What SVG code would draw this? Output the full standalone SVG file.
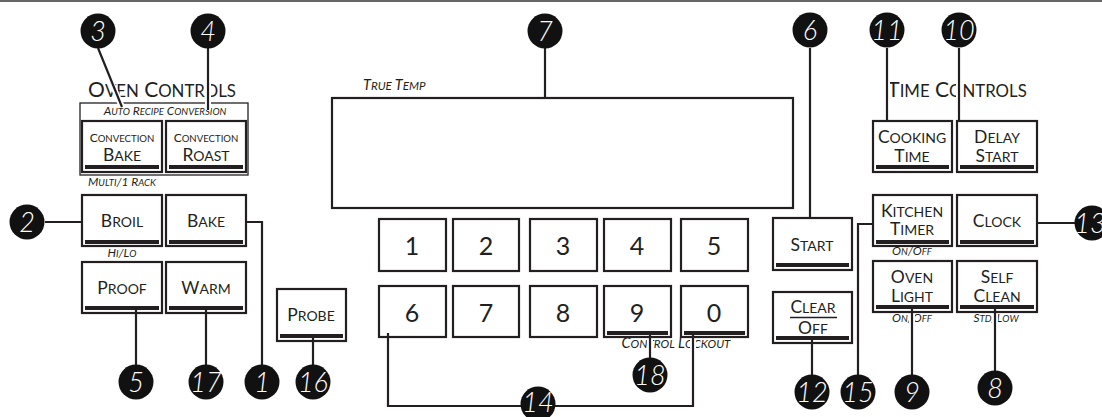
<svg xmlns="http://www.w3.org/2000/svg" width="1102" height="417" viewBox="0 0 1102 417">
<style>
.bg{fill:#fff}
.btn{fill:#fff;stroke:#231f20;stroke-width:2.2}
.bar{fill:#231f20}
.lbl{font-family:Lato,"Open Sans",sans-serif;fill:#231f20;text-anchor:middle}
.big{font-size:17.5px}
.sm{font-size:12px}
.s{font-size:0.8em}
.it{font-family:Lato,"Open Sans",sans-serif;fill:#231f20;font-style:italic;font-size:12px}
.it2{font-size:14.5px}
.hd{font-family:Lato,"Open Sans",sans-serif;fill:#231f20;font-size:21px}
.dig{font-family:Lato,"Open Sans",sans-serif;fill:#231f20;font-size:25px;text-anchor:middle}
.ln{fill:none;stroke:#231f20;stroke-width:2.2}
.halo{fill:none;stroke:#fff;stroke-width:6}
.badge circle{fill:#111}
.badge text{font-family:Lato,"Open Sans",sans-serif;font-style:italic;font-weight:300;font-size:27px;fill:#fff;text-anchor:middle}
</style>
<rect class="bg" x="0" y="0" width="1102" height="417"/>
<line x1="0" y1="1" x2="1102" y2="1" stroke="#666" stroke-width="2"/>

<g id="oven-controls-heading">
<text class="hd" x="162" y="97" text-anchor="middle">O<tspan class="s">VEN</tspan> C<tspan class="s">ONTROLS</tspan></text>
<rect x="80" y="103" width="168" height="72" fill="none" stroke="#231f20" stroke-width="1.3"/>
<text class="it" x="165" y="115" text-anchor="middle">A<tspan class="s">UTO</tspan> R<tspan class="s">ECIPE</tspan> C<tspan class="s">ONVERSION</tspan></text>
<text class="it" x="88" y="186">M<tspan class="s">ULTI</tspan>/1 R<tspan class="s">ACK</tspan></text>
<text class="it" x="122" y="257" text-anchor="middle">H<tspan class="s">I</tspan>/L<tspan class="s">O</tspan></text>
</g>

<g id="btn-conv-bake"><rect class="btn" x="82" y="121" width="80" height="51"/><rect class="bar" x="85" y="165" width="74" height="4"/>
<text class="lbl sm" x="122" y="142">C<tspan class="s">ONVECTION</tspan></text><text class="lbl big" x="122" y="161">B<tspan class="s">AKE</tspan></text></g>
<g id="btn-conv-roast"><rect class="btn" x="166" y="121" width="80" height="51"/><rect class="bar" x="169" y="165" width="74" height="4"/>
<text class="lbl sm" x="206" y="142">C<tspan class="s">ONVECTION</tspan></text><text class="lbl big" x="206" y="161">R<tspan class="s">OAST</tspan></text></g>
<g id="btn-broil"><rect class="btn" x="82" y="195" width="80" height="51"/><rect class="bar" x="85" y="240" width="74" height="4"/>
<text class="lbl big" x="122" y="227">B<tspan class="s">ROIL</tspan></text></g>
<g id="btn-bake"><rect class="btn" x="166" y="195" width="80" height="51"/><rect class="bar" x="169" y="240" width="74" height="4"/>
<text class="lbl big" x="206" y="227">B<tspan class="s">AKE</tspan></text></g>
<g id="btn-proof"><rect class="btn" x="82" y="262" width="80" height="51"/><rect class="bar" x="85" y="306" width="74" height="4"/>
<text class="lbl big" x="122" y="294">P<tspan class="s">ROOF</tspan></text></g>
<g id="btn-warm"><rect class="btn" x="166" y="262" width="80" height="51"/><rect class="bar" x="169" y="306" width="74" height="4"/>
<text class="lbl big" x="206" y="294">W<tspan class="s">ARM</tspan></text></g>
<g id="btn-probe"><rect class="btn" x="277" y="289" width="69" height="52"/><rect class="bar" x="280" y="334" width="63" height="4"/>
<text class="lbl big" x="311" y="321">P<tspan class="s">ROBE</tspan></text></g>

<g id="display"><rect x="332" y="98" width="461" height="110" fill="#fff" stroke="#231f20" stroke-width="2.2"/>
<text class="it it2" x="363" y="90">T<tspan class="s">RUE</tspan> T<tspan class="s">EMP</tspan></text></g>

<g id="key-1"><rect class="btn" x="379" y="219" width="67" height="52"/><text class="dig" x="412" y="255">1</text></g>
<g id="key-2"><rect class="btn" x="453" y="219" width="66" height="52"/><text class="dig" x="486" y="255">2</text></g>
<g id="key-3"><rect class="btn" x="530" y="219" width="67" height="52"/><text class="dig" x="563" y="255">3</text></g>
<g id="key-4"><rect class="btn" x="604" y="219" width="67" height="52"/><text class="dig" x="637" y="255">4</text></g>
<g id="key-5"><rect class="btn" x="681" y="219" width="67" height="52"/><text class="dig" x="714" y="255">5</text></g>
<g id="key-6"><rect class="btn" x="379" y="286" width="67" height="51"/><text class="dig" x="412" y="322">6</text></g>
<g id="key-7"><rect class="btn" x="453" y="286" width="66" height="51"/><text class="dig" x="486" y="322">7</text></g>
<g id="key-8"><rect class="btn" x="530" y="286" width="67" height="51"/><text class="dig" x="563" y="322">8</text></g>
<g id="key-9"><rect class="btn" x="604" y="286" width="67" height="51"/><rect class="bar" x="607" y="331" width="61" height="4"/><text class="dig" x="637" y="322">9</text></g>
<g id="key-0"><rect class="btn" x="681" y="286" width="67" height="51"/><rect class="bar" x="684" y="331" width="61" height="4"/><text class="dig" x="714" y="322">0</text></g>
<text class="it it2" x="676" y="348" text-anchor="middle">C<tspan class="s">ONTROL</tspan> L<tspan class="s">OCKOUT</tspan></text>

<g id="btn-start"><rect class="btn" x="773" y="218" width="79" height="52"/><rect class="bar" x="776" y="263" width="73" height="4"/>
<text class="lbl big" x="812" y="251">S<tspan class="s">TART</tspan></text></g>
<g id="btn-clear-off"><rect class="btn" x="773" y="292" width="79" height="51"/><rect class="bar" x="776" y="336" width="73" height="4"/>
<text class="lbl big" x="813" y="313">C<tspan class="s">LEAR</tspan></text><line x1="790" y1="317.5" x2="837" y2="317.5" stroke="#231f20" stroke-width="1.5"/><text class="lbl big" x="813" y="334">O<tspan class="s">FF</tspan></text></g>

<g id="time-controls-heading">
<text class="hd" x="957" y="97" text-anchor="middle">T<tspan class="s">IME</tspan> C<tspan class="s">ONTROLS</tspan></text>
<text class="it" x="912" y="255" text-anchor="middle">O<tspan class="s">N</tspan>/O<tspan class="s">FF</tspan></text>
<text class="it" x="912" y="322" text-anchor="middle">O<tspan class="s">N</tspan>/O<tspan class="s">FF</tspan></text>
<text class="it" x="996" y="322" text-anchor="middle">S<tspan class="s">TD</tspan>/L<tspan class="s">OW</tspan></text>
</g>
<g id="btn-cooking-time"><rect class="btn" x="873" y="121" width="79" height="51"/><rect class="bar" x="876" y="165" width="73" height="4"/>
<text class="lbl big" x="912" y="143">C<tspan class="s">OOKING</tspan></text><text class="lbl big" x="912" y="162">T<tspan class="s">IME</tspan></text></g>
<g id="btn-delay-start"><rect class="btn" x="957" y="121" width="80" height="51"/><rect class="bar" x="960" y="165" width="74" height="4"/>
<text class="lbl big" x="997" y="143">D<tspan class="s">ELAY</tspan></text><text class="lbl big" x="997" y="162">S<tspan class="s">TART</tspan></text></g>
<g id="btn-kitchen-timer"><rect class="btn" x="873" y="195" width="79" height="51"/><rect class="bar" x="876" y="240" width="73" height="4"/>
<text class="lbl big" x="912" y="217">K<tspan class="s">ITCHEN</tspan></text><text class="lbl big" x="912" y="235">T<tspan class="s">IMER</tspan></text></g>
<g id="btn-clock"><rect class="btn" x="957" y="195" width="80" height="51"/><rect class="bar" x="960" y="240" width="74" height="4"/>
<text class="lbl big" x="997" y="227">C<tspan class="s">LOCK</tspan></text></g>
<g id="btn-oven-light"><rect class="btn" x="873" y="261" width="79" height="51"/><rect class="bar" x="876" y="305" width="73" height="4"/>
<text class="lbl big" x="912" y="283">O<tspan class="s">VEN</tspan></text><text class="lbl big" x="912" y="302">L<tspan class="s">IGHT</tspan></text></g>
<g id="btn-self-clean"><rect class="btn" x="957" y="261" width="80" height="51"/><rect class="bar" x="960" y="305" width="74" height="4"/>
<text class="lbl big" x="997" y="283">S<tspan class="s">ELF</tspan></text><text class="lbl big" x="997" y="302">C<tspan class="s">LEAN</tspan></text></g>

<g id="connectors">
<g class="halos">
<line class="halo" x1="98" y1="52" x2="122" y2="107"/>
<line class="halo" x1="208" y1="52" x2="208" y2="110"/>
<line class="halo" x1="887" y1="50" x2="887" y2="118"/>
<line class="halo" x1="959" y1="50" x2="959" y2="118"/>
<line class="halo" x1="650" y1="339" x2="650" y2="356"/>
<line class="halo" x1="693" y1="339" x2="693" y2="356"/>
<line class="halo" x1="912" y1="314" x2="912" y2="326"/>
<line class="halo" x1="995" y1="314" x2="995" y2="326"/>
</g>
<line class="ln" x1="98" y1="48" x2="122" y2="107"/>
<line class="ln" x1="208" y1="48" x2="208" y2="110"/>
<line class="ln" x1="45" y1="222" x2="82" y2="222"/>
<polyline class="ln" points="246,222 262,222 262,366"/>
<line class="ln" x1="136" y1="310" x2="136" y2="366"/>
<line class="ln" x1="206" y1="310" x2="206" y2="366"/>
<line class="ln" x1="313" y1="338" x2="313" y2="366"/>
<line class="ln" x1="545" y1="48" x2="545" y2="98"/>
<line class="ln" x1="810" y1="48" x2="810" y2="218"/>
<polyline class="ln" points="388,333 388,406 693,406 693,335"/>
<line class="ln" x1="650" y1="335" x2="650" y2="360"/>
<line class="ln" x1="812" y1="340" x2="812" y2="376"/>
<polyline class="ln" points="873,224 858,224 858,376"/>
<line class="ln" x1="912" y1="309" x2="912" y2="376"/>
<line class="ln" x1="995" y1="309" x2="995" y2="372"/>
<line class="ln" x1="887" y1="48" x2="887" y2="121"/>
<line class="ln" x1="959" y1="48" x2="959" y2="121"/>
<line class="ln" x1="1037" y1="223" x2="1076" y2="223"/>
</g>

<g id="badge-1" class="badge"><circle cx="262" cy="382" r="17.5"/><text x="262" y="392">1</text></g>
<g id="badge-2" class="badge"><circle cx="27" cy="222" r="17.5"/><text x="27" y="232">2</text></g>
<g id="badge-3" class="badge"><circle cx="98" cy="31" r="17.5"/><text x="98" y="41">3</text></g>
<g id="badge-4" class="badge"><circle cx="208" cy="31" r="17.5"/><text x="208" y="41">4</text></g>
<g id="badge-5" class="badge"><circle cx="136" cy="382" r="17.5"/><text x="136" y="392">5</text></g>
<g id="badge-6" class="badge"><circle cx="810" cy="30" r="17.5"/><text x="810" y="40">6</text></g>
<g id="badge-7" class="badge"><circle cx="545" cy="31" r="17.5"/><text x="545" y="41">7</text></g>
<g id="badge-8" class="badge"><circle cx="995" cy="388" r="17.5"/><text x="995" y="398">8</text></g>
<g id="badge-9" class="badge"><circle cx="912" cy="392" r="17.5"/><text x="912" y="402">9</text></g>
<g id="badge-10" class="badge"><circle cx="959" cy="30" r="17.5"/><text x="959" y="40">10</text></g>
<g id="badge-11" class="badge"><circle cx="887" cy="30" r="17.5"/><text x="887" y="40">11</text></g>
<g id="badge-12" class="badge"><circle cx="812" cy="392" r="17.5"/><text x="812" y="402">12</text></g>
<g id="badge-13" class="badge"><circle cx="1092" cy="223" r="17.5"/><text x="1090" y="233">13</text></g>
<g id="badge-14" class="badge"><circle cx="538" cy="404" r="17.5"/><text x="538" y="412">14</text></g>
<g id="badge-15" class="badge"><circle cx="858" cy="392" r="17.5"/><text x="858" y="402">15</text></g>
<g id="badge-16" class="badge"><circle cx="313" cy="382" r="17.5"/><text x="313" y="392">16</text></g>
<g id="badge-17" class="badge"><circle cx="206" cy="382" r="17.5"/><text x="206" y="392">17</text></g>
<g id="badge-18" class="badge"><circle cx="650" cy="375" r="17.5"/><text x="650" y="385">18</text></g>
</svg>
